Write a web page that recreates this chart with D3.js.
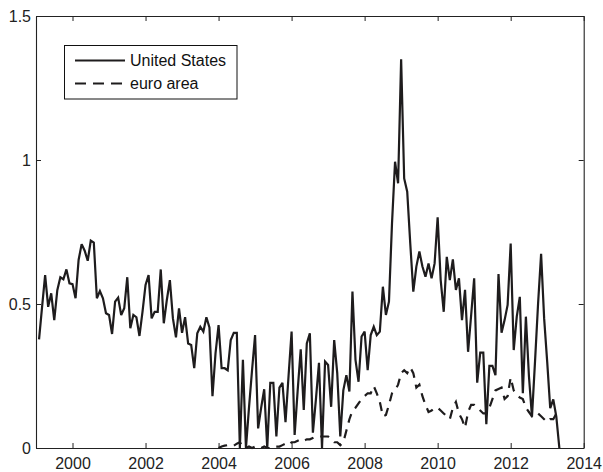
<!DOCTYPE html>
<html>
<head>
<meta charset="utf-8">
<script src="https://cdn.jsdelivr.net/npm/d3@7"></script>
<style>
  html, body { margin: 0; padding: 0; background: #fff; }
  svg { display: block; }
  text { font-family: "Liberation Sans", Arial, Helvetica, sans-serif; }
</style>
</head>
<body>
<svg id="chart" width="603" height="472"></svg>
<script>
// ---- data (monthly, first US observation = Feb 1999) ----
const startYear = 1999;
const startMonthIndex = 1; // 0 = Jan
const usValues = [
  0.377, 0.49, 0.60, 0.49, 0.537, 0.444, 0.548, 0.593, 0.586, 0.62, 0.572,
  0.569, 0.52, 0.653, 0.708, 0.685, 0.65, 0.72, 0.713, 0.52, 0.545, 0.52, 0.468,
  0.462, 0.396, 0.508, 0.522, 0.462, 0.485, 0.593, 0.416, 0.462, 0.454, 0.389,
  0.473, 0.566, 0.60, 0.45, 0.473, 0.473, 0.62, 0.433, 0.514, 0.583, 0.45,
  0.384, 0.485, 0.40, 0.454, 0.363, 0.358, 0.277, 0.398, 0.421, 0.404, 0.454,
  0.419, 0.18, 0.329, 0.427, 0.277, 0.277, 0.27, 0.375, 0.40, 0.40, 0.0,
  0.306, 0.0, 0.14, 0.27, 0.392, 0.068, 0.14, 0.204, 0.0, 0.226, 0.226, 0.04,
  0.21, 0.226, 0.09, 0.25, 0.404, 0.045, 0.2, 0.343, 0.132, 0.363, 0.398,
  0.053, 0.17, 0.296, 0.0, 0.30, 0.288, 0.143, 0.375, 0.26, 0.04, 0.20, 0.253,
  0.196, 0.543, 0.306, 0.23, 0.387, 0.404, 0.27, 0.392, 0.421, 0.392, 0.404,
  0.56, 0.462, 0.508, 0.78, 0.994, 0.919, 1.35, 0.936, 0.89, 0.71, 0.543,
  0.63, 0.682, 0.63, 0.595, 0.641, 0.589, 0.641, 0.801, 0.583, 0.473, 0.664,
  0.583, 0.655, 0.549, 0.589, 0.444, 0.549, 0.334, 0.46, 0.589, 0.227, 0.331,
  0.331, 0.083, 0.285, 0.285, 0.253, 0.604, 0.40, 0.444, 0.497, 0.71, 0.34,
  0.456, 0.525, 0.19, 0.456, 0.25, 0.109, 0.3, 0.5, 0.674, 0.45, 0.3, 0.138,
  0.169, 0.109, 0.0
];
const euroOffset = 59; // euro area series starts 59 months after the US series
const euroValues = [
  0.0, 0.005, 0.008, 0.01, 0.01, 0.008, 0.015, 0.02, 0.005, 0.0, 0.005, 0.0,
  0.005, 0.005, 0.0, 0.005, 0.0, 0.0, 0.005, 0.005, 0.005, 0.01, 0.015, 0.01,
  0.02, 0.02, 0.025, 0.03, 0.025, 0.03, 0.03, 0.035, 0.04, 0.04, 0.04, 0.04,
  0.04, 0.03, 0.02, 0.02, 0.01, 0.02, 0.06, 0.1, 0.13, 0.14, 0.155, 0.17,
  0.18, 0.19, 0.19, 0.215, 0.19, 0.16, 0.11, 0.115, 0.15, 0.19, 0.2, 0.22,
  0.26, 0.27, 0.26, 0.28, 0.26, 0.21, 0.22, 0.18, 0.15, 0.125, 0.13, 0.14,
  0.14, 0.13, 0.12, 0.11, 0.1, 0.14, 0.16, 0.12, 0.1, 0.07, 0.125, 0.15, 0.15,
  0.14, 0.13, 0.12, 0.12, 0.14, 0.17, 0.2, 0.205, 0.21, 0.17, 0.18, 0.245,
  0.2, 0.185, 0.175, 0.17, 0.14, 0.125, 0.11, 0.12, 0.12, 0.11, 0.1, 0.09,
  0.1, 0.1, 0.12
];
const seriesNames = ["United States", "euro area"];
const xTicks = [2000, 2002, 2004, 2006, 2008, 2010, 2012, 2014];
const yTicks = [0, 0.5, 1, 1.5];

(function () {
// ---- layout ----
const svg = d3.select("#chart");
const L = 36, R = 583.7, T = 16, B = 448;
const x = d3.scaleLinear().domain([1999, 2014]).range([L, R]);
const y = d3.scaleLinear().domain([0, 1.5]).range([B, T]);
const color = "#1e1c1d";

const tOf = k => startYear + (startMonthIndex + k) / 12;
const usData = usValues.map((v, k) => ({ t: tOf(k), v }));
const euroData = euroValues.map((v, k) => ({ t: tOf(k + euroOffset), v }));

// ---- axes (box with inward ticks) ----
const fmtY = d => (d === 0 ? "0" : String(d));
const gBottom = svg.append("g").attr("transform", `translate(0,${B})`)
  .call(d3.axisBottom(x).tickValues(xTicks).tickFormat(d3.format("d"))
    .tickSizeInner(-5).tickSizeOuter(0).tickPadding(10));
const gTop = svg.append("g").attr("transform", `translate(0,${T})`)
  .call(d3.axisTop(x).tickValues(xTicks).tickFormat("")
    .tickSizeInner(-5).tickSizeOuter(0));
const gLeft = svg.append("g").attr("transform", `translate(${L},0)`)
  .call(d3.axisLeft(y).tickValues(yTicks).tickFormat(fmtY)
    .tickSizeInner(-5).tickSizeOuter(0).tickPadding(5));
const gRight = svg.append("g").attr("transform", `translate(${R},0)`)
  .call(d3.axisRight(y).tickValues(yTicks).tickFormat("")
    .tickSizeInner(-5).tickSizeOuter(0));

[gBottom, gTop, gLeft, gRight].forEach(g => {
  g.select(".domain").attr("stroke", "#222").attr("stroke-width", 1.1);
  g.selectAll(".tick line").attr("stroke", "#222").attr("stroke-width", 1);
  g.selectAll("text").attr("fill", "#222").style("font-size", "16px")
    .style("font-family", "'Liberation Sans', Arial, sans-serif");
});

// ---- lines ----
const line = d3.line().x(d => x(d.t)).y(d => y(d.v));
svg.append("path").datum(usData)
  .attr("d", line).attr("fill", "none")
  .attr("stroke", color).attr("stroke-width", 2.2)
  .attr("stroke-linejoin", "miter").attr("stroke-miterlimit", 3);
svg.append("path").datum(euroData)
  .attr("d", line).attr("fill", "none")
  .attr("stroke", color).attr("stroke-width", 2.2)
  .attr("stroke-dasharray", "9,7");

// ---- legend ----
const lg = svg.append("g");
lg.append("rect").attr("x", 64.5).attr("y", 45.5).attr("width", 172.5).attr("height", 53.5)
  .attr("fill", "#fff").attr("stroke", "#111").attr("stroke-width", 1);
const legendRows = [
  { name: seriesNames[0], dash: null, yy: 60.5 },
  { name: seriesNames[1], dash: "11,7", yy: 83.5 }
];
legendRows.forEach(r => {
  lg.append("line").attr("x1", 75).attr("x2", 125).attr("y1", r.yy).attr("y2", r.yy)
    .attr("stroke", color).attr("stroke-width", 2.2)
    .attr("stroke-dasharray", r.dash);
  lg.append("text").attr("x", 130).attr("y", r.yy + 5.8)
    .attr("fill", "#111").style("font-size", "16px").text(r.name);
});
})();
</script>
</body>
</html>
